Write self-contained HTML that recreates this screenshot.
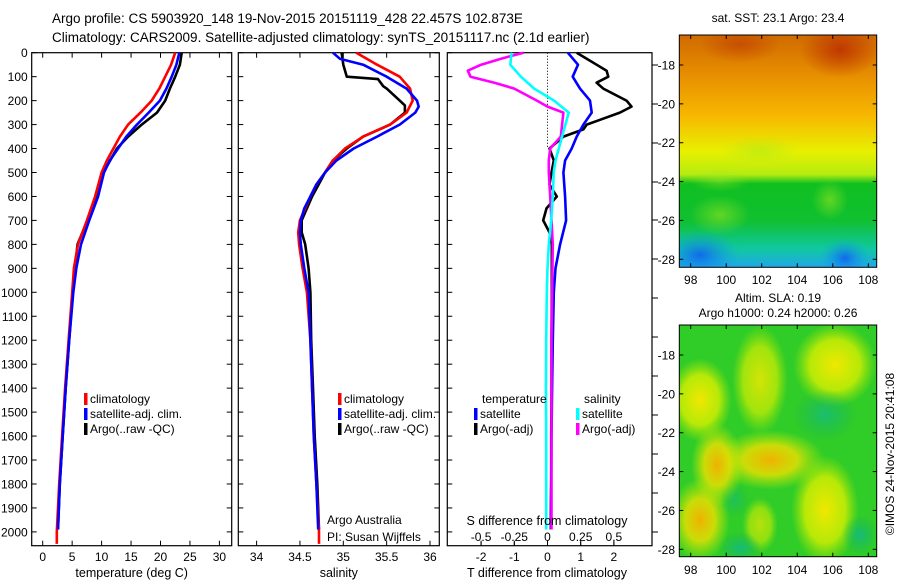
<!DOCTYPE html>
<html><head><meta charset="utf-8">
<style>
html,body{margin:0;padding:0;background:#fff;}
svg{display:block;font-family:"Liberation Sans",Arial,sans-serif;}
</style></head>
<body>
<svg id="fig" width="900" height="580" viewBox="0 0 900 580" xmlns="http://www.w3.org/2000/svg">
<defs>
  <linearGradient id="sstBase" x1="0" y1="0" x2="0" y2="1">
    <stop offset="0" stop-color="#d06a00"/>
    <stop offset="0.18" stop-color="#e89000"/>
    <stop offset="0.35" stop-color="#f7b800"/>
    <stop offset="0.5" stop-color="#e8f000"/>
    <stop offset="0.6" stop-color="#b6ec10"/>
    <stop offset="0.64" stop-color="#10c020"/>
    <stop offset="0.8" stop-color="#10c030"/>
    <stop offset="0.92" stop-color="#10c8a0"/>
    <stop offset="1" stop-color="#20a8e8"/>
  </linearGradient>
  <radialGradient id="blobRed"><stop offset="0" stop-color="#b82800" stop-opacity="0.8"/><stop offset="1" stop-color="#b82800" stop-opacity="0"/></radialGradient>
  <radialGradient id="blobBlue"><stop offset="0" stop-color="#1060f0" stop-opacity="0.9"/><stop offset="1" stop-color="#10a0f0" stop-opacity="0"/></radialGradient>
  <radialGradient id="blobLime"><stop offset="0" stop-color="#a0e820" stop-opacity="0.8"/><stop offset="1" stop-color="#a0e820" stop-opacity="0"/></radialGradient>
  <radialGradient id="blobYel"><stop offset="0" stop-color="#f0e800"/><stop offset="0.6" stop-color="#d8f000" stop-opacity="0.8"/><stop offset="1" stop-color="#a8e800" stop-opacity="0"/></radialGradient>
  <radialGradient id="blobOr"><stop offset="0" stop-color="#f0b000"/><stop offset="0.5" stop-color="#f0e000" stop-opacity="0.8"/><stop offset="1" stop-color="#c0f000" stop-opacity="0"/></radialGradient>
  <radialGradient id="blobTeal"><stop offset="0" stop-color="#10b890"/><stop offset="1" stop-color="#10b060" stop-opacity="0"/></radialGradient>
  <clipPath id="clipM1"><rect x="679.3" y="35" width="197.4" height="232.3"/></clipPath>
  <clipPath id="clipM2"><rect x="679.3" y="325" width="197.4" height="231.7"/></clipPath>
</defs>

<text x="52" y="23" font-size="13.5">Argo profile: CS 5903920_148 19-Nov-2015 20151119_428 22.457S 102.873E</text>
<text x="52" y="42" font-size="13.5">Climatology: CARS2009. Satellite-adjusted climatology: synTS_20151117.nc (2.1d earlier)</text>

<g id="p1"></g>
<g id="p2"></g>
<g id="p3"></g>

<!-- SST map -->
<g>
  <text x="778" y="22" font-size="12" text-anchor="middle">sat. SST: 23.1 Argo: 23.4</text>
  <g clip-path="url(#clipM1)">
    <rect x="679.3" y="35" width="197.4" height="232.3" fill="url(#sstBase)"/>
    <ellipse cx="840" cy="50" rx="40" ry="28" fill="url(#blobRed)"/>
    <ellipse cx="740" cy="45" rx="40" ry="18" fill="url(#blobRed)" opacity="0.6"/>
    <ellipse cx="700" cy="255" rx="40" ry="25" fill="url(#blobBlue)"/>
    <ellipse cx="845" cy="258" rx="25" ry="20" fill="url(#blobBlue)"/>
    <ellipse cx="720" cy="215" rx="30" ry="20" fill="url(#blobLime)" opacity="0.7"/>
    <ellipse cx="830" cy="200" rx="18" ry="20" fill="url(#blobLime)" opacity="0.7"/>
    <ellipse cx="760" cy="150" rx="40" ry="14" fill="url(#blobLime)" opacity="0.6"/>
    <ellipse cx="720" cy="180" rx="30" ry="12" fill="url(#blobLime)" opacity="0.6"/>
  </g>
  <rect x="679.3" y="35" width="197.4" height="232.3" fill="none" stroke="#000"/>
  <g id="m1ax"></g>
</g>

<!-- SLA map -->
<g>
  <text x="778" y="302" font-size="12" text-anchor="middle">Altim. SLA: 0.19</text>
  <text x="778" y="317" font-size="12" text-anchor="middle">Argo h1000: 0.24 h2000: 0.26</text>
  <g clip-path="url(#clipM2)">
    <rect x="679.3" y="325" width="197.4" height="231.7" fill="#30cc28"/>
    <ellipse cx="700" cy="400" rx="32" ry="42" fill="url(#blobYel)"/>
    <ellipse cx="760" cy="380" rx="28" ry="55" fill="url(#blobYel)" opacity="0.85"/>
    <ellipse cx="835" cy="365" rx="42" ry="42" fill="url(#blobYel)"/>
    <ellipse cx="770" cy="460" rx="55" ry="30" fill="url(#blobOr)"/>
    <ellipse cx="717" cy="465" rx="26" ry="42" fill="url(#blobOr)"/>
    <ellipse cx="700" cy="520" rx="30" ry="42" fill="url(#blobOr)"/>
    <ellipse cx="825" cy="510" rx="34" ry="55" fill="url(#blobYel)"/>
    <ellipse cx="760" cy="525" rx="18" ry="28" fill="url(#blobYel)" opacity="0.7"/>
    <ellipse cx="825" cy="415" rx="32" ry="26" fill="url(#blobTeal)" opacity="0.7"/>
    <ellipse cx="740" cy="548" rx="22" ry="16" fill="url(#blobTeal)" opacity="0.8"/>
    <ellipse cx="860" cy="535" rx="18" ry="20" fill="url(#blobTeal)" opacity="0.8"/>
    <ellipse cx="735" cy="500" rx="15" ry="18" fill="url(#blobTeal)" opacity="0.5"/>
  </g>
  <rect x="679.3" y="325" width="197.4" height="231.7" fill="none" stroke="#000"/>
  <g id="m2ax"></g>
</g>
<text transform="translate(894,454) rotate(-90)" font-size="12" text-anchor="middle">©IMOS 24-Nov-2015 20:41:08</text>
</svg>

<script>
// ---- data ----
const depthTicks = [0,100,200,300,400,500,600,700,800,900,1000,1100,1200,1300,1400,1500,1600,1700,1800,1900,2000];
const tempTicks = [0,5,10,15,20,25,30];
const salTicks = [34,34.5,35,35.5,36];
const tdiffTicks = [-2,-1,0,1,2];
const sdiffTicks = [-0.5,-0.25,0,0.25,0.5];
const sdiffTickLabels = ["-0.5","-0.25","0","0.25","0.5"];
const lonTicks = [98,100,102,104,106,108];
const latTicks = [-18,-20,-22,-24,-26,-28];

const tempClimDepth = [0,50,100,150,200,250,300,350,400,450,500,600,700,800,900,1000,1200,1400,1600,1800,2000,2050];
const tempClim      = [22.5,21.8,20.8,19.8,18.5,16.6,14.5,13.1,12.0,10.9,10.0,8.9,7.5,6.0,5.3,5.0,4.4,3.8,3.3,2.8,2.4,2.4];
const tempSatDepth  = [0,50,100,150,200,250,300,350,400,450,500,600,700,800,900,1000,1200,1400,1600,1800,1990];
const tempSat       = [23.2,22.7,21.9,21.0,19.9,18.0,16.0,14.2,12.8,11.4,10.4,9.4,7.9,6.5,5.7,5.2,4.5,3.9,3.4,2.9,2.6];
const tempArgoDepth = [0,50,100,150,200,250,300,350,400,500,600,700,800,900,1000,1200,1400,1600,1800,1990];
const tempArgo      = [23.6,23.3,22.5,21.6,20.8,19.4,16.8,14.5,12.6,10.3,9.2,7.6,5.9,5.5,5.1,4.5,3.9,3.4,2.9,2.6];

const salClimDepth = [0,50,100,150,200,250,300,350,400,450,500,550,600,650,700,750,800,900,1000,1200,1400,1600,1800,2000,2050];
const salClim      = [35.15,35.39,35.65,35.77,35.80,35.73,35.54,35.23,35.02,34.88,34.79,34.69,34.62,34.56,34.50,34.48,34.49,34.53,34.58,34.62,34.64,34.66,34.69,34.72,34.72];
const salSatDepth  = [0,25,50,100,150,200,225,250,300,350,400,450,500,550,600,650,700,750,800,900,1000,1200,1400,1600,1800,1990];
const salSat       = [34.88,34.96,35.23,35.50,35.73,35.85,35.87,35.83,35.65,35.39,35.12,34.92,34.79,34.69,34.62,34.55,34.51,34.50,34.51,34.55,34.60,34.62,34.64,34.66,34.69,34.71];
const salArgoDepth = [0,50,100,110,140,150,200,220,250,300,350,400,450,500,600,700,750,800,900,1000,1200,1400,1600,1800,1990];
const salArgo      = [34.98,35.00,35.04,35.40,35.46,35.50,35.65,35.71,35.71,35.54,35.23,35.04,34.88,34.79,34.64,34.52,34.52,34.56,34.60,34.62,34.63,34.65,34.67,34.70,34.72];

const tdSatDepth  = [0,50,100,150,200,250,300,350,400,450,500,600,700,800,900,1000,1200,1400,1600,1800,1990];
const tdSat       = [0.61,0.92,0.76,0.98,1.28,1.33,1.08,0.88,0.73,0.53,0.48,0.53,0.56,0.38,0.24,0.19,0.16,0.14,0.12,0.11,0.1];
const tdArgoDepth = [0,25,50,75,100,125,150,200,225,250,280,300,320,350,400,450,500,550,600,650,700,750,800,1000,1200,1400,1600,1800,1990];
const tdArgo      = [0.88,1.18,1.48,1.78,1.83,1.48,1.68,2.38,2.53,2.18,1.58,1.18,1.08,0.48,0.06,0.19,0.12,0.06,0.28,-0.03,-0.13,0.06,0.13,0.13,0.12,0.12,0.11,0.11,0.1];
const sdSatDepth  = [0,50,100,150,200,250,300,350,400,450,500,600,700,800,900,1000,1200,1400,1600,1800,1990];
const sdSat       = [-0.27,-0.28,-0.2,-0.10,0.05,0.16,0.135,0.11,0.085,0.06,0.047,0.04,0.028,0.01,0.0,-0.005,-0.01,-0.012,-0.01,-0.01,-0.01];
const sdArgoDepth = [0,25,50,75,100,125,150,200,225,250,300,350,400,450,500,600,700,800,1000,1200,1400,1600,1800,1990];
const sdArgo      = [-0.18,-0.35,-0.5,-0.6,-0.58,-0.4,-0.25,-0.08,0.0,0.12,0.11,0.10,0.02,0.01,0.01,0.02,0.03,0.04,0.035,0.03,0.03,0.03,0.03,0.03];

// ---- geometry ----
const NS = "http://www.w3.org/2000/svg";
const TOP = 52.7, BOT = 545.7;
const yD = d => TOP + d * 0.2396;
const xT = t => 42.7 + t * 5.89;
const xS = s => 343.3 + (s - 35) * 86.7;
const xTD = t => 547.5 + t * 33.2;
const xSD = s => 547.5 + s * 132.8;
const xLon = l => 690.7 + (l - 98) * 17.76;
const yLat1 = la => 65 + (-18 - la) * 19.43;
const yLat2 = la => 355 + (-18 - la) * 19.43;

function el(tag, attrs, parent, txt) {
  const e = document.createElementNS(NS, tag);
  for (const k in attrs) e.setAttribute(k, attrs[k]);
  if (txt !== undefined) e.textContent = txt;
  parent.appendChild(e);
  return e;
}
function frame(g, x0, x1) {
  const r = el('rect', {x:x0, y:TOP, width:x1-x0, height:BOT-TOP, fill:'none', stroke:'#000', 'stroke-width':1.2}, g);
  
  
}
function yTicks(g, x0, x1, labels) {
  depthTicks.forEach(d => {
    const y = yD(d);
    el('line', {x1:x0, y1:y, x2:x0+5, y2:y, stroke:'#000'}, g);
    el('line', {x1:x1, y1:y, x2:x1-5, y2:y, stroke:'#000'}, g);
    if (labels) {
      const t = el('text', {x:x0-4, y:y+4.5, 'font-size':12, 'text-anchor':'end'}, g, String(d));
      
      
    }
  });
}
function xTicks(g, ticks, fx, labelY, fmt) {
  ticks.forEach(v => {
    const x = fx(v);
    el('line', {x1:x, y1:BOT, x2:x, y2:BOT-5, stroke:'#000'}, g);
    el('line', {x1:x, y1:TOP, x2:x, y2:TOP+5, stroke:'#000'}, g);
    const t = el('text', {x:x, y:labelY, 'font-size':12, 'text-anchor':'middle'}, g, fmt ? fmt(v) : String(v));
    
    
  });
}
function series(g, depths, vals, fx, color, name, w) {
  const pts = depths.map((d,i) => fx(vals[i]).toFixed(1) + ',' + yD(d).toFixed(1)).join(' ');
  const p = el('polyline', {points:pts, fill:'none', stroke:color, 'stroke-width':w||2.6, 'stroke-linejoin':'round'}, g);
  
  
}
function legendEntry(g, x, y, color, label, name) {
  const grp = el('g', {}, g);
  
  
  el('rect', {x:x, y:y-10, width:3.5, height:12, fill:color}, grp);
  el('text', {x:x+6, y:y, 'font-size':12}, grp, label);
}

// Panel 1
const p1 = document.getElementById('p1');
frame(p1, 31.7, 231.7);
yTicks(p1, 31.7, 231.7, true);
xTicks(p1, tempTicks, xT, 561);
series(p1, tempArgoDepth, tempArgo, xT, '#000', 'temp-argo-line');
series(p1, tempClimDepth, tempClim, xT, '#f00', 'temp-climatology-line');
series(p1, tempSatDepth, tempSat, xT, '#00f', 'temp-satellite-line');
let t1 = el('text', {x:131.7, y:577, 'font-size':12.5, 'text-anchor':'middle'}, p1, 'temperature (deg C)');


legendEntry(p1, 84, 403, '#f00', 'climatology', 'legend-climatology');
legendEntry(p1, 84, 418, '#00f', 'satellite-adj. clim.', 'legend-satellite-adj');
legendEntry(p1, 84, 433, '#000', 'Argo(..raw -QC)', 'legend-argo-raw');

// Panel 2
const p2 = document.getElementById('p2');
frame(p2, 238.3, 439.3);
yTicks(p2, 238.3, 439.3, false);
xTicks(p2, salTicks, xS, 561);
series(p2, salArgoDepth, salArgo, xS, '#000', 'sal-argo-line');
series(p2, salClimDepth, salClim, xS, '#f00', 'sal-climatology-line');
series(p2, salSatDepth, salSat, xS, '#00f', 'sal-satellite-line');
let t2 = el('text', {x:338.8, y:577, 'font-size':12.5, 'text-anchor':'middle'}, p2, 'salinity');


legendEntry(p2, 338, 403, '#f00', 'climatology', 'legend-climatology-2');
legendEntry(p2, 338, 418, '#00f', 'satellite-adj. clim.', 'legend-satellite-adj-2');
legendEntry(p2, 338, 433, '#000', 'Argo(..raw -QC)', 'legend-argo-raw-2');
let a1 = el('text', {x:327, y:524, 'font-size':12}, p2, 'Argo Australia');


let a2 = el('text', {x:327, y:541, 'font-size':12}, p2, 'PI: Susan Wijffels');



// Panel 3
const p3 = document.getElementById('p3');
frame(p3, 447.3, 652);
depthTicks.forEach(d => {
  const y = yD(d);
  el('line', {x1:447.3, y1:y, x2:452.3, y2:y, stroke:'#000'}, p3);
});
[65,104,143,182,220,259,298,337,376,415,454,493,532].forEach(y => {
  el('line', {x1:652, y1:y, x2:658, y2:y, stroke:'#000'}, p3);
});
tdiffTicks.forEach(v => {
  const x = xTD(v);
  el('line', {x1:x, y1:BOT, x2:x, y2:BOT-5, stroke:'#000'}, p3);
  const t = el('text', {x:x, y:561, 'font-size':12, 'text-anchor':'middle'}, p3, String(v));
  
  
});
sdiffTicks.forEach((v,i) => {
  const x = xSD(v);
  el('line', {x1:x, y1:BOT, x2:x, y2:BOT-4, stroke:'#000'}, p3);
  const t = el('text', {x:x, y:541, 'font-size':12, 'text-anchor':'middle'}, p3, sdiffTickLabels[i]);
  
  
});
el('line', {x1:xTD(0), y1:TOP, x2:xTD(0), y2:yD(400), stroke:'#000', 'stroke-dasharray':'1,2'}, p3);
series(p3, tdArgoDepth, tdArgo, xTD, '#000', 'tdiff-argo-line');
series(p3, tdSatDepth, tdSat, xTD, '#00f', 'tdiff-satellite-line');
series(p3, sdArgoDepth, sdArgo, xSD, '#f0f', 'sdiff-argo-line');
series(p3, sdSatDepth, sdSat, xSD, '#0ff', 'sdiff-satellite-line');
let t3 = el('text', {x:547, y:577, 'font-size':12.5, 'text-anchor':'middle'}, p3, 'T difference from climatology');


let t4 = el('text', {x:547, y:525, 'font-size':12.5, 'text-anchor':'middle'}, p3, 'S difference from climatology');


let lt = el('text', {x:482, y:403, 'font-size':12}, p3, 'temperature');


let ls = el('text', {x:584, y:403, 'font-size':12}, p3, 'salinity');


legendEntry(p3, 474, 418, '#00f', 'satellite', 'legend-t-satellite');
legendEntry(p3, 474, 433, '#000', 'Argo(-adj)', 'legend-t-argo');
legendEntry(p3, 576, 418, '#0ff', 'satellite', 'legend-s-satellite');
legendEntry(p3, 576, 433, '#f0f', 'Argo(-adj)', 'legend-s-argo');

// Map axes
function mapAxes(gid, yTop, yBot, yLat, lonLabelY) {
  const g = document.getElementById(gid);
  lonTicks.forEach(l => {
    const x = xLon(l);
    el('line', {x1:x, y1:yBot, x2:x, y2:yBot-4, stroke:'#000'}, g);
    el('line', {x1:x, y1:yTop, x2:x, y2:yTop+4, stroke:'#000'}, g);
    const t = el('text', {x:x, y:lonLabelY, 'font-size':12, 'text-anchor':'middle'}, g, String(l));
    
    
  });
  latTicks.forEach(la => {
    const y = yLat(la);
    el('line', {x1:679.3, y1:y, x2:683.3, y2:y, stroke:'#000'}, g);
    el('line', {x1:876.7, y1:y, x2:872.7, y2:y, stroke:'#000'}, g);
    const t = el('text', {x:675, y:y+4.5, 'font-size':12, 'text-anchor':'end'}, g, String(la));
    
    
  });
}
mapAxes('m1ax', 35, 267.3, yLat1, 284);
mapAxes('m2ax', 325, 556.7, yLat2, 574);
</script>
</body></html>
